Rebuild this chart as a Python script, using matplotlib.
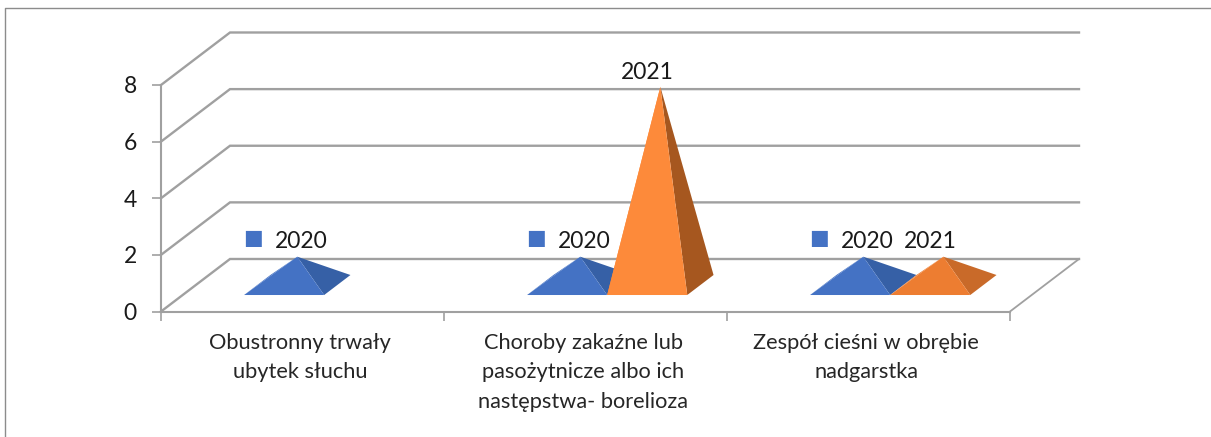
import matplotlib
matplotlib.use("Agg")
import matplotlib.pyplot as plt
from matplotlib.patches import Polygon
from matplotlib.lines import Line2D

plt.rcParams['font.family'] = ['Lato', 'DejaVu Sans']

categories = ["Obustronny trwały\nubytek słuchu",
              "Choroby zakaźne lub\npasożytnicze albo ich\nnastępstwa- borelioza",
              "Zespół cieśni w obrębie\nnadgarstka"]
series_names = ["2020", "2021"]
values_2020 = [1, 1, 1]
values_2021 = [0, 7, 1]
y_ticks = [0, 2, 4, 6, 8]

W, H = 1211, 437
fig = plt.figure(figsize=(W / 100, H / 100), dpi=100, facecolor="white")
L, R, T, B = 161, 1010, 85, 311.5
ax = fig.add_axes([L / W, 1 - B / H, (R - L) / W, (B - T) / H])
ax.set_xlim(0, 3)
ax.set_ylim(0, 8)
ax.patch.set_visible(False)

GRID = "#a0a0a0"
DX = 69 / 283      # wall depth in category units
DY = 52.5 / 28.31  # wall depth in value units


def proj(x, v, d):
    return (x + d * DX, v + d * DY)


# walls and gridlines
for t in y_ticks:
    a, b, c = proj(0, t, 0), proj(0, t, 1), proj(3, t, 1)
    ax.add_line(Line2D([a[0], b[0], c[0]], [a[1], b[1], c[1]], color=GRID, lw=1.7,
                       clip_on=False, solid_joinstyle="miter", zorder=1))
a, b = proj(3, 0, 0), proj(3, 0, 1)
ax.add_line(Line2D([a[0], b[0]], [a[1], b[1]], color=GRID, lw=1.3, clip_on=False, zorder=1))

for s in ("top", "right"):
    ax.spines[s].set_visible(False)
for s in ("left", "bottom"):
    ax.spines[s].set_color(GRID)
    ax.spines[s].set_linewidth(1.5)

ax.set_yticks(y_ticks)
ax.set_xticks([0, 1, 2, 3])
ax.set_xticklabels([])
ax.tick_params(axis="both", color=GRID, width=1.2, length=6.5)
ax.tick_params(axis="y", labelsize=16.5, labelcolor="#1a1a1a", pad=11)

for i, label in enumerate(categories):
    ax.annotate(label, xy=(i + 0.5, 0), xytext=(-1.5, -15.5), textcoords="offset points",
                ha="center", va="top", fontsize=15.7, color="#262626", linespacing=1.58)

# pyramids
WIDTH = 0.283
D0, D1 = 0.314, 0.695
PALETTES = [("#4472c4", "#3660a6"), ("#ed7d31", "#c96a29")]
TALL_ORANGE = ("#fd8a3a", "#a6571f")


def pyramid(x0, val, pal, z):
    x1 = x0 + WIDTH
    xc, dc = x0 + WIDTH / 2, (D0 + D1) / 2
    apex = proj(xc, val, dc)
    fl, fr, br, bl = proj(x0, 0, D0), proj(x1, 0, D0), proj(x1, 0, D1), proj(x0, 0, D1)
    ax.add_patch(Polygon([bl, fl, apex], closed=True, fc=pal[0], ec="none", clip_on=False, zorder=z))
    ax.add_patch(Polygon([fr, br, apex], closed=True, fc=pal[1], ec="none", clip_on=False, zorder=z))
    ax.add_patch(Polygon([fl, fr, apex], closed=True, fc=pal[0], ec="none", clip_on=False, zorder=z + 0.1))
    return apex


def px(p):
    return p * 0.72


TXT = dict(fontsize=16.5, color="#1a1a1a", va="center", zorder=6, annotation_clip=False)
for i in range(3):
    x_left = i + 0.5 - WIDTH
    v0, v1 = values_2020[i], values_2021[i]
    if v0:
        apex = pyramid(x_left, v0, PALETTES[0], 3)
        ax.annotate(series_names[0], xy=apex, xytext=(px(4), px(15)), textcoords="offset points",
                    ha="center", **TXT)
        ax.annotate("■", xy=apex, xytext=(px(-44), px(18.5)), textcoords="offset points",
                    ha="center", va="center", fontsize=15, color=PALETTES[0][0],
                    family="DejaVu Sans", zorder=6, annotation_clip=False)
    if v1:
        pal = TALL_ORANGE if v1 > 2 else PALETTES[1]
        apex = pyramid(x_left + WIDTH, v1, pal, 4)
        ax.annotate(series_names[1], xy=apex, xytext=(px(-13.5), px(14 if v1 > 2 else 15)),
                    textcoords="offset points", ha="center", **TXT)

# chart frame
fig.add_artist(Line2D([5 / W, 5 / W, 1], [0, 1 - 7.5 / H, 1 - 7.5 / H], color="#8c8c8c", lw=1.0))

fig.savefig("out.png", dpi=100)
